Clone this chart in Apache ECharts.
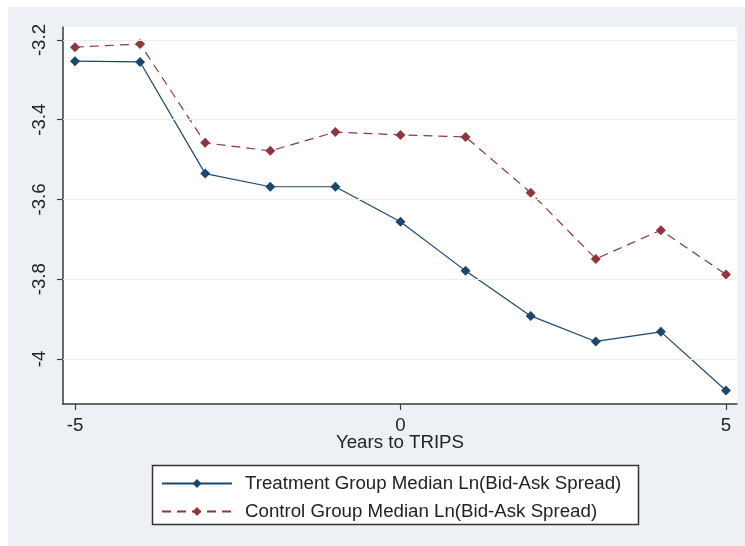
<!DOCTYPE html>
<html>
<head>
<meta charset="utf-8">
<script src="https://cdn.jsdelivr.net/npm/echarts@6/dist/echarts.min.js"></script>
<style>
  html, body { margin: 0; padding: 0; background: #ffffff; }
  #chart { width: 745px; height: 546px; }
</style>
</head>
<body>
<div id="chart"></div>
<script>
// ---- data ----
var years = [-5, -4, -3, -2, -1, 0, 1, 2, 3, 4, 5];
var treatment = [-3.253, -3.255, -3.535, -3.568, -3.568, -3.656, -3.779, -3.892, -3.956, -3.932, -4.079];
var control = [-3.218, -3.210, -3.458, -3.478, -3.431, -3.438, -3.443, -3.583, -3.749, -3.677, -3.788];
var xTicks = [-5, 0, 5];
var yTicks = [-4, -3.8, -3.6, -3.4, -3.2];
var seriesNames = ['Treatment Group Median Ln(Bid-Ask Spread)', 'Control Group Median Ln(Bid-Ask Spread)'];
var xTitle = 'Years to TRIPS';

function pairs(xs, ys) { return xs.map(function (x, i) { return [x, ys[i]]; }); }

var FONT = 'Arial, "Liberation Sans", sans-serif';
var FS = 18.7;
var chart = echarts.init(document.getElementById('chart'), null, { renderer: 'canvas' });

chart.setOption({
  animation: false,
  backgroundColor: '#ffffff',
  textStyle: { fontFamily: FONT },
  graphic: [
    { type: 'rect', z: -100, silent: true, shape: { x: 8, y: 7, width: 737, height: 539 }, style: { fill: '#edf1f6' } },
    { type: 'rect', z: 1, silent: true, shape: { x: 152.5, y: 465.5, width: 486, height: 59 }, style: { fill: '#ffffff', stroke: '#333333', lineWidth: 1.5 } }
  ],
  grid: { left: 63, right: 8, top: 27, bottom: 142, show: true, backgroundColor: '#ffffff', borderWidth: 0 },
  xAxis: {
    type: 'value', min: -5.184, max: 5.169,
    name: xTitle, nameLocation: 'middle', nameGap: 29, nameMoveOverlap: false,
    nameTextStyle: { fontSize: FS, color: '#222222', fontFamily: FONT },
    axisLine: { show: true, onZero: false, lineStyle: { color: '#3a3a3a', width: 1.5 } },
    axisTick: { show: true, length: 6, customValues: xTicks, lineStyle: { color: '#3a3a3a', width: 1.2 } },
    axisLabel: { customValues: xTicks, fontSize: FS, color: '#222222', margin: 12, fontFamily: FONT },
    splitLine: { show: false }
  },
  yAxis: {
    type: 'value', min: -4.1129, max: -3.1674,
    axisLine: { show: true, onZero: false, lineStyle: { color: '#3a3a3a', width: 1.5 } },
    axisTick: { show: true, length: 6, customValues: yTicks, lineStyle: { color: '#3a3a3a', width: 1.2 } },
    axisLabel: { customValues: yTicks, rotate: 90, fontSize: FS, color: '#222222', margin: 14, fontFamily: FONT },
    splitLine: { show: false }
  },
  legend: {
    orient: 'vertical', left: 161, top: 473,
    itemWidth: 70, itemHeight: 11, itemGap: 7,
    padding: 0,
    textStyle: { fontSize: FS, color: '#222222', fontFamily: FONT, lineHeight: 21, padding: [0, 0, 0, 8] },
    data: seriesNames
  },
  series: [
    {
      name: 'grid', type: 'line', data: [], z: 1, silent: true,
      markLine: {
        silent: true, symbol: 'none', label: { show: false },
        lineStyle: { color: '#e9eef3', type: 'solid', width: 1.2 },
        data: yTicks.map(function (v) { return { yAxis: v }; })
      }
    },
    {
      name: seriesNames[0], type: 'line', z: 3,
      data: pairs(years, treatment),
      symbol: 'diamond', symbolSize: 10,
      lineStyle: { color: '#1a476f', width: 1.2 },
      itemStyle: { color: '#1a476f' }
    },
    {
      name: seriesNames[1], type: 'line', z: 3,
      data: pairs(years, control),
      symbol: 'diamond', symbolSize: 10,
      lineStyle: { color: '#90353b', width: 1.2, type: [9, 6] },
      itemStyle: { color: '#90353b' }
    }
  ]
});
</script>
</body>
</html>
